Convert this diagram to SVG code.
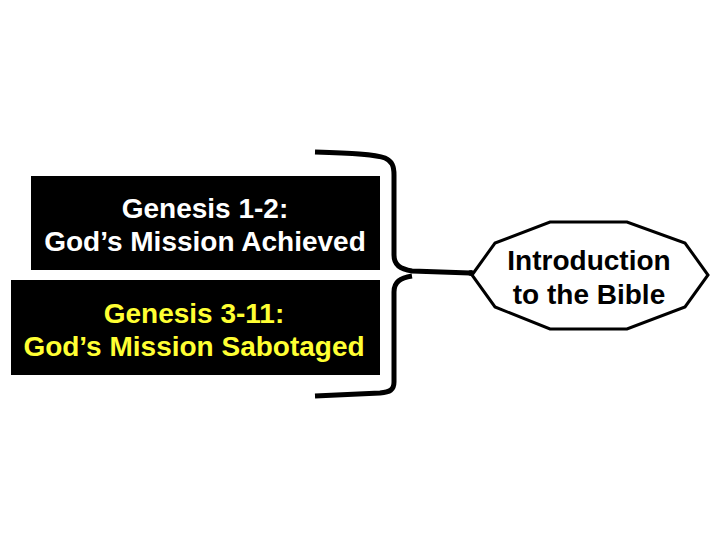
<svg xmlns="http://www.w3.org/2000/svg" width="720" height="540" viewBox="0 0 720 540">
<style>
.box{fill:#000}
.t{font-family:"Liberation Sans",Arial,sans-serif;font-weight:bold;font-size:28px;text-anchor:middle}
.w{fill:#fff}
.y{fill:#ffff33}
.k{fill:#000}
.c{fill:none;stroke:#000;stroke-width:5;stroke-linejoin:round;stroke-linecap:butt}
</style>
<rect width="720" height="540" fill="#fff"/>
<g id="node-genesis12">
<rect class="box" x="31" y="176" width="349" height="94"/>
<text class="t w" x="205" y="218">Genesis 1-2:</text>
<text class="t w" x="205" y="251">God’s Mission Achieved</text>
</g>
<g id="node-genesis311">
<rect class="box" x="11" y="280" width="369" height="95"/>
<text class="t y" x="194" y="323">Genesis 3-11:</text>
<text class="t y" x="194" y="356">God’s Mission Sabotaged</text>
</g>
<g id="connectors">
<path class="c" d="M315,152 C350,153 375,154 385,158 C392,161 394,166 394,175 L394,255 C394,265 400,269 412,271 L470,273"/>
<path class="c" d="M412,276 C400,278 394,282 394,292 L394,382 C394,390 390,392 380,393 L315,396"/>
<circle cx="471" cy="273" r="3" fill="#000"/>
</g>
<g id="node-intro">
<polygon points="472,275 495,243 550,222 627,222 685,243 708,275 685,307 627,329 550,329 495,307" fill="#fff" stroke="#000" stroke-width="3" stroke-linejoin="miter"/>
<text class="t k" x="589" y="270">Introduction</text>
<text class="t k" x="589" y="304">to the Bible</text>
</g>
</svg>
